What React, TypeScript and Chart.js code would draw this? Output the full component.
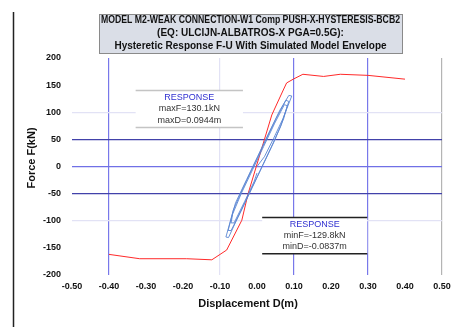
import React, { useEffect, useRef } from "react";
import { Chart, registerables } from "chart.js";

Chart.register(...registerables);

// ---- Data ----
const titleLines = [
  "MODEL M2-WEAK CONNECTION-W1 Comp PUSH-X-HYSTERESIS-BCB2",
  "(EQ: ULCIJN-ALBATROS-X PGA=0.5G):",
  "Hysteretic Response F-U With Simulated Model Envelope",
];
const xAxisTitle = "Displacement D(m)";
const yAxisTitle = "Force F(kN)";

const envelopeD = [-0.4, -0.317, -0.19, -0.122, -0.082, -0.041, -0.024, 0.04, 0.071, 0.08, 0.098, 0.124, 0.18, 0.225, 0.3, 0.4];
const envelopeF = [-162, -170, -170, -172, -154, -99, -50, 95, 141, 154, 161, 170, 166, 170, 168, 161];

const hystD = [
  0, 0.02, 0.045, 0.07, 0.094, 0.086, 0.062, 0.032, 0.002, -0.028, -0.058, -0.084,
  -0.077, -0.052, -0.022, 0.008, 0.038, 0.064, 0.086, 0.078, 0.052, 0.022, -0.008, -0.038,
  -0.064, -0.078, -0.07, -0.043, -0.013, 0.017, 0.047, 0.072, 0.082, 0.074, 0.048, 0.018,
  -0.012, -0.042, -0.066, -0.07, -0.062, -0.033, -0.008, 0,
];
const hystF = [
  0, 18, 52, 88, 130, 131, 104, 62, 19, -24, -67, -130,
  -131, -94, -51, -8, 35, 74, 120, 122, 89, 46, 3, -40,
  -80, -118, -118, -82, -39, 4, 47, 88, 112, 114, 80, 37,
  -6, -49, -88, -104, -104, -64, -28, -12,
];

const maxBox = { head: "RESPONSE", line1: "maxF=130.1kN", line2: "maxD=0.0944m" };
const minBox = { head: "RESPONSE", line1: "minF=-129.8kN", line2: "minD=-0.0837m" };

const xGridColors: Record<string, string> = {
  "-0.4": "#7878ea",
  "-0.1": "#e2e2f5",
  "0.1": "#7878ea",
  "0.3": "#7878ea",
  "0.5": "#b4b4b4",
};
const yGridColors: Record<string, string> = {
  "100": "#e2e2f5",
  "50": "#4242aa",
  "0": "#7070e6",
  "-50": "#4242aa",
  "-100": "#e2e2f5",
};

const SANS = "'Liberation Sans', Arial, sans-serif";

const decorPlugin = {
  id: "decor",
  beforeDraw(chart: any) {
    const ctx = chart.ctx;
    ctx.save();
    ctx.fillStyle = "#ffffff";
    ctx.fillRect(0, 0, chart.width, chart.height);
    // left frame line
    ctx.strokeStyle = "#222";
    ctx.lineWidth = 1.5;
    ctx.beginPath();
    ctx.moveTo(13.5, 12);
    ctx.lineTo(13.5, chart.height);
    ctx.stroke();
    // title box
    const bx = 99, by = 14, bw = 303, bh = 39;
    ctx.fillStyle = "#dadee7";
    ctx.fillRect(bx, by, bw, bh);
    ctx.strokeStyle = "#8a8a8a";
    ctx.lineWidth = 1;
    ctx.strokeRect(bx + 0.5, by + 0.5, bw, bh);
    ctx.fillStyle = "#111";
    ctx.font = "bold 10px " + SANS;
    ctx.textAlign = "center";
    ctx.textBaseline = "middle";
    const cx = bx + bw / 2;
    titleLines.forEach((t, i) => {
      ctx.fillText(t, cx, by + 6 + i * 13, bw - 4);
    });
    ctx.restore();
  },
  beforeDatasetsDraw(chart: any) {
    const ctx = chart.ctx;
    const xs = chart.scales.x;
    const ys = chart.scales.y;
    const drawBox = (box: any, x0: number, x1: number, y0: number, y1: number, lineColor: string) => {
      const px0 = xs.getPixelForValue(x0);
      const px1 = xs.getPixelForValue(x1);
      const py0 = ys.getPixelForValue(y0);
      const py1 = ys.getPixelForValue(y1);
      ctx.save();
      ctx.fillStyle = "#ffffff";
      ctx.fillRect(px0, py0, px1 - px0, py1 - py0);
      ctx.strokeStyle = lineColor;
      ctx.lineWidth = 1.5;
      ctx.beginPath();
      ctx.moveTo(px0, py0);
      ctx.lineTo(px1, py0);
      ctx.moveTo(px0, py1);
      ctx.lineTo(px1, py1);
      ctx.stroke();
      const cx = (px0 + px1) / 2;
      const h = py1 - py0;
      ctx.textAlign = "center";
      ctx.textBaseline = "middle";
      ctx.font = "9px " + SANS;
      ctx.fillStyle = "#3030d0";
      ctx.fillText(box.head, cx, py0 + h * 0.2);
      ctx.fillStyle = "#333";
      ctx.fillText(box.line1, cx, py0 + h * 0.5);
      ctx.fillText(box.line2, cx, py0 + h * 0.8);
      ctx.restore();
    };
    drawBox(maxBox, -0.328, -0.038, 140, 72, "#c4c4c4");
    drawBox(minBox, 0.014, 0.298, -94, -161, "#222");
  },
  afterDraw(chart: any) {
    const ctx = chart.ctx;
    ctx.save();
    ctx.fillStyle = "#111";
    ctx.font = "bold 11px " + SANS;
    ctx.textAlign = "center";
    ctx.textBaseline = "middle";
    ctx.fillText(xAxisTitle, 248, 304);
    ctx.translate(32, 158);
    ctx.rotate(-Math.PI / 2);
    ctx.fillText(yAxisTitle, 0, 0);
    ctx.restore();
  },
};

export default function App() {
  const ref = useRef<HTMLCanvasElement | null>(null);
  useEffect(() => {
    if (!ref.current) return;
    const chart = new Chart(ref.current, {
      type: "scatter",
      data: {
        datasets: [
          {
            label: "Hysteresis",
            data: hystD.map((d, i) => ({ x: d, y: hystF[i] })),
            showLine: true,
            borderColor: "#5a86d2",
            borderWidth: 0.9,
            pointRadius: 0,
            tension: 0,
          },
          {
            label: "Envelope",
            data: envelopeD.map((d, i) => ({ x: d, y: envelopeF[i] })),
            showLine: true,
            borderColor: "#ff2a2a",
            borderWidth: 1,
            pointRadius: 0,
            tension: 0,
          },
        ],
      },
      options: {
        responsive: false,
        animation: false,
        layout: { padding: { top: 58, right: 20, left: 0, bottom: 0 } },
        plugins: { legend: { display: false }, tooltip: { enabled: false }, title: { display: false } },
        scales: {
          x: {
            type: "linear",
            min: -0.5,
            max: 0.5,
            afterFit: (s: any) => {
              s.height = 52;
            },
            ticks: {
              stepSize: 0.1,
              padding: 6,
              color: "#111",
              font: { family: SANS, size: 9, weight: "bold" },
              callback: (v: any) => Number(v).toFixed(2),
              maxRotation: 0,
            },
            grid: {
              drawTicks: false,
              lineWidth: 1.2,
              color: (c: any) => {
                const k = String(Math.round((c.tick ? c.tick.value : 0) * 10) / 10);
                return xGridColors[k] || "rgba(0,0,0,0)";
              },
            },
            border: { display: false },
          },
          y: {
            type: "linear",
            min: -200,
            max: 200,
            afterFit: (s: any) => {
              s.width = 72;
            },
            ticks: {
              stepSize: 50,
              padding: 11,
              color: "#111",
              font: { family: SANS, size: 9, weight: "bold" },
            },
            grid: {
              drawTicks: false,
              lineWidth: 1.2,
              color: (c: any) => {
                const k = String(Math.round(c.tick ? c.tick.value : 0));
                return yGridColors[k] || "rgba(0,0,0,0)";
              },
            },
            border: { display: false },
          },
        },
      },
      plugins: [decorPlugin],
    } as any);
    return () => chart.destroy();
  }, []);
  return (
    <div style={{ position: "fixed", left: 0, top: 0, width: 462, height: 327 }}>
      <canvas ref={ref} width={462} height={327} style={{ display: "block" }} />
    </div>
  );
}
